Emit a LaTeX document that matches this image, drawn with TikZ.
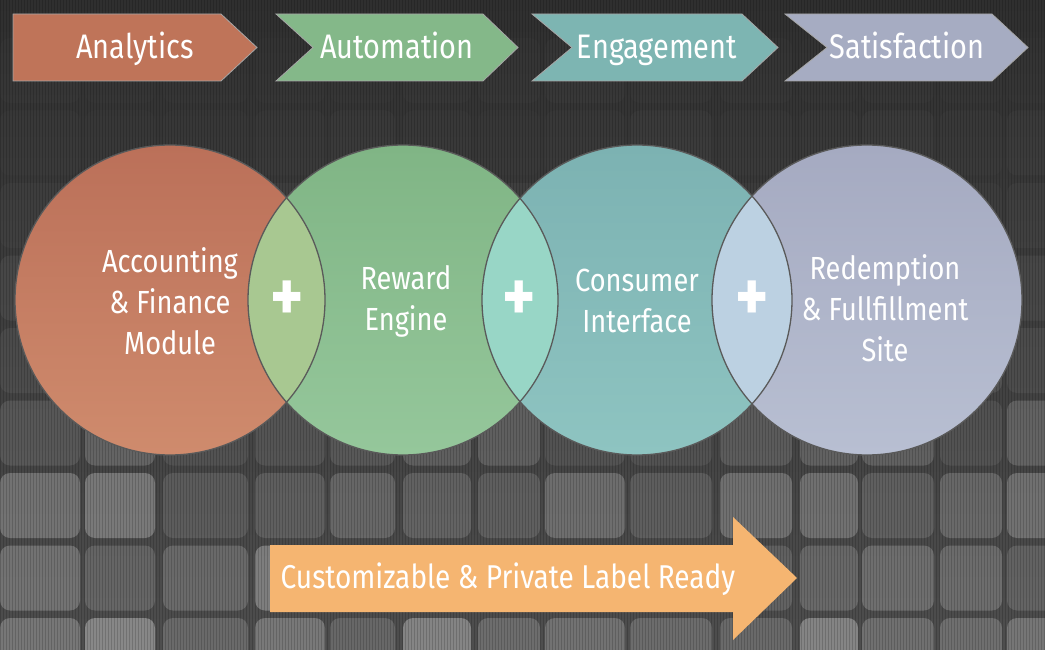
\documentclass[tikz,border=0pt]{standalone}
\usepackage{fontspec}
\setmainfont[FakeStretch=0.85]{Fira Sans}
\definecolor{bgtop}{HTML}{2F2F2F}
\definecolor{bgmid}{HTML}{353535}
\definecolor{bgbot}{HTML}{4E4E4E}
\definecolor{tilec}{HTML}{9A9A9A}
\definecolor{redA}{HTML}{BF7459}
\definecolor{greenA}{HTML}{84B889}
\definecolor{tealA}{HTML}{7DB5B2}
\definecolor{lavA}{HTML}{A6ACC2}
\definecolor{c1t}{HTML}{BB7059}
\definecolor{c1b}{HTML}{CF8B6D}
\definecolor{c2t}{HTML}{80B585}
\definecolor{c2b}{HTML}{95C79B}
\definecolor{c3t}{HTML}{7CB2B2}
\definecolor{c3b}{HTML}{8EC4C1}
\definecolor{c4t}{HTML}{A5AAC1}
\definecolor{c4b}{HTML}{B8BFD2}
\definecolor{lensA}{HTML}{A8C891}
\definecolor{lensB}{HTML}{98D6C6}
\definecolor{lensC}{HTML}{BCD1E2}
\definecolor{ring}{HTML}{5A5A5A}
\definecolor{arrowc}{HTML}{F5B571}
\begin{document}
\begin{tikzpicture}[x=1pt,y=-1pt,
  chev/.style={draw=gray!70, line width=0.8pt},
  chevtext/.style={text=white, anchor=base, inner sep=0pt, font=\fontsize{34}{40}\selectfont},
  ctext/.style={text=white, align=center, inner sep=0pt, font=\fontsize{32}{41}\selectfont},
  plustext/.style={text=white, inner sep=0pt, font=\fontsize{74}{74}\selectfont\bfseries},
  outline/.style={draw=ring, line width=1.3pt}]
\useasboundingbox (0,0) rectangle (1045,650);
% background
\shade[top color=bgtop, middle color=bgmid, bottom color=bgbot] (0,0) rectangle (1045,650);
\pgfmathsetseed{7}
\foreach \r/\a in {0/0.04,1/0.06,2/0.08,3/0.12,4/0.2,5/0.38,6/0.6,7/0.72,8/0.78}{
  \foreach \cx/\cw in {0/80,85/70,163/85,255/70,330/65,403/68,478/62,545/80,630/82,720/72,800/58,862/72,940/62,1007/60}{
    \pgfmathsetmacro\op{\a*(0.4+0.6*rnd)}
    \fill[tilec, fill opacity=\op, rounded corners=10pt] (\cx,{38+72.5*\r}) rectangle ++(\cw,65);
  }
}
\foreach \x in {0,3,...,1045}{
  \draw[black, opacity=0.16, line width=1pt] (\x,0) -- (\x,650);
}
% chevrons
\fill[redA, chev] (13,14) -- (221,14) -- (257,47.5) -- (221,81) -- (13,81) -- cycle;
\fill[greenA, chev] (276,14) -- (483,14) -- (518,47.5) -- (483,81) -- (276,81) -- (313,47.5) -- cycle;
\fill[tealA, chev] (532,14) -- (742,14) -- (778,47.5) -- (742,81) -- (532,81) -- (572,47.5) -- cycle;
\fill[lavA, chev] (785,14) -- (992,14) -- (1028,47.5) -- (992,81) -- (785,81) -- (827,47.5) -- cycle;
\node[chevtext] (h1) at (135,59) {Analytics};
\node[chevtext] (h2) at (397,59) {Automation};
\node[chevtext] (h3) at (657,59) {Engagement};
\node[chevtext] (h4) at (907,59) {Satisfaction};
% circles
\coordinate (c1) at (170,300);
\coordinate (c2) at (403,300);
\coordinate (c3) at (637,300);
\coordinate (c4) at (867,300);
\shade[top color=c1t, bottom color=c1b] (c1) circle[radius=155pt];
\shade[top color=c2t, bottom color=c2b] (c2) circle[radius=155pt];
\shade[top color=c3t, bottom color=c3b] (c3) circle[radius=155pt];
\shade[top color=c4t, bottom color=c4b] (c4) circle[radius=155pt];
\begin{scope}
  \clip (c1) circle[radius=155pt];
  \fill[lensA] (c2) circle[radius=155pt];
\end{scope}
\begin{scope}
  \clip (c2) circle[radius=155pt];
  \fill[lensB] (c3) circle[radius=155pt];
\end{scope}
\begin{scope}
  \clip (c3) circle[radius=155pt];
  \fill[lensC] (c4) circle[radius=155pt];
\end{scope}
\foreach \c in {c1,c2,c3,c4}{
  \draw[outline] (\c) circle[radius=155pt];
}
\node[ctext] (t1) at (170,301) {Accounting\\\& Finance\\Module};
\node[ctext] (t2) at (406,301) {Reward\\Engine};
\node[ctext] (t3) at (637,301) {Consumer\\Interface};
\node[ctext] (t4) at (885,308) {Redemption\\\& Fullfillment\\Site};
\node[plustext] (p1) at (287,301) {+};
\node[plustext] (p2) at (519,301) {+};
\node[plustext] (p3) at (752,301) {+};
% bottom arrow
\fill[arrowc] (270,545) -- (733,545) -- (733,517) -- (797,578) -- (733,640) -- (733,612) -- (270,612) -- cycle;
\node[text=white, anchor=base, inner sep=0pt, font=\fontsize{33}{40}\selectfont] (ar) at (508,588) {Customizable \& Private Label Ready};
\end{tikzpicture}
\end{document}
